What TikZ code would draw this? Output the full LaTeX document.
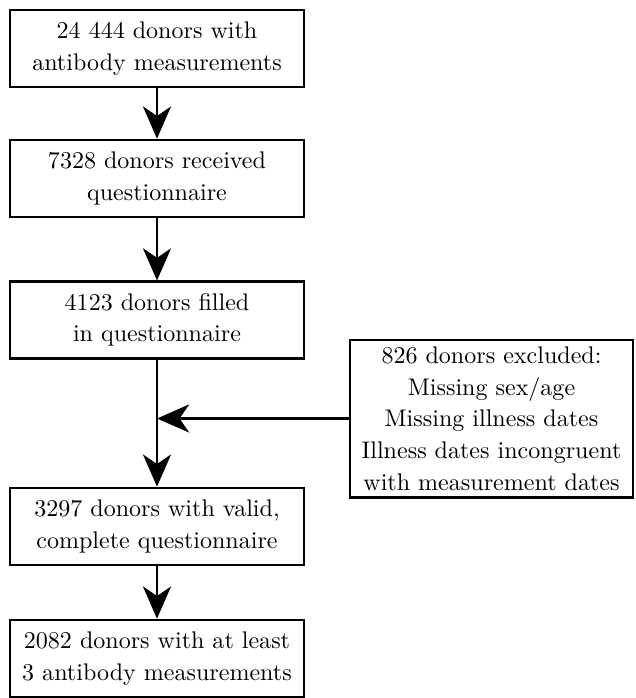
\documentclass[tikz,border=0pt]{standalone}
\usetikzlibrary{arrows.meta}
\begin{document}
\begin{tikzpicture}[x=0.42pt,y=-0.42pt,
  box/.style={draw, line width=1.2pt, inner sep=0pt, align=center,
    font=\fontsize{10.1}{13.3}\selectfont},
  flow/.style={line width=0.95pt, -{Stealth[length=13.5pt,width=11.8pt,inset=4pt]}}]
\useasboundingbox (0,0) rectangle (635,698);
\node[box, minimum width=123.5pt, minimum height=32.3pt] (b1) at (157,48.5) {24 444 donors with\\antibody measurements};
\node[box, minimum width=123.5pt, minimum height=32.3pt] (b2) at (157,178.5) {7328 donors received\\questionnaire};
\node[box, minimum width=123.5pt, minimum height=32pt] (b3) at (157,320) {4123 donors filled\\in questionnaire};
\node[box, minimum width=123.5pt, minimum height=32.3pt] (b4) at (157,526.5) {3297 donors with valid,\\complete questionnaire};
\node[box, minimum width=123.5pt, minimum height=32.3pt] (b5) at (157,658.5) {2082 donors with at least\\3 antibody measurements};
\node[box, minimum width=118.9pt, minimum height=66pt] (r) at (491.5,418.5) {826 donors excluded:\\Missing sex/age\\Missing illness dates\\Illness dates incongruent\\with measurement dates};
\coordinate (j) at (157,418.5);
\draw[flow] (b1) -- (b2);
\draw[flow] (b2) -- (b3);
\draw[flow] (b3) -- (b4);
\draw[flow] (b4) -- (b5);
\draw[flow] (r.west) -- (j);
\end{tikzpicture}
\end{document}
